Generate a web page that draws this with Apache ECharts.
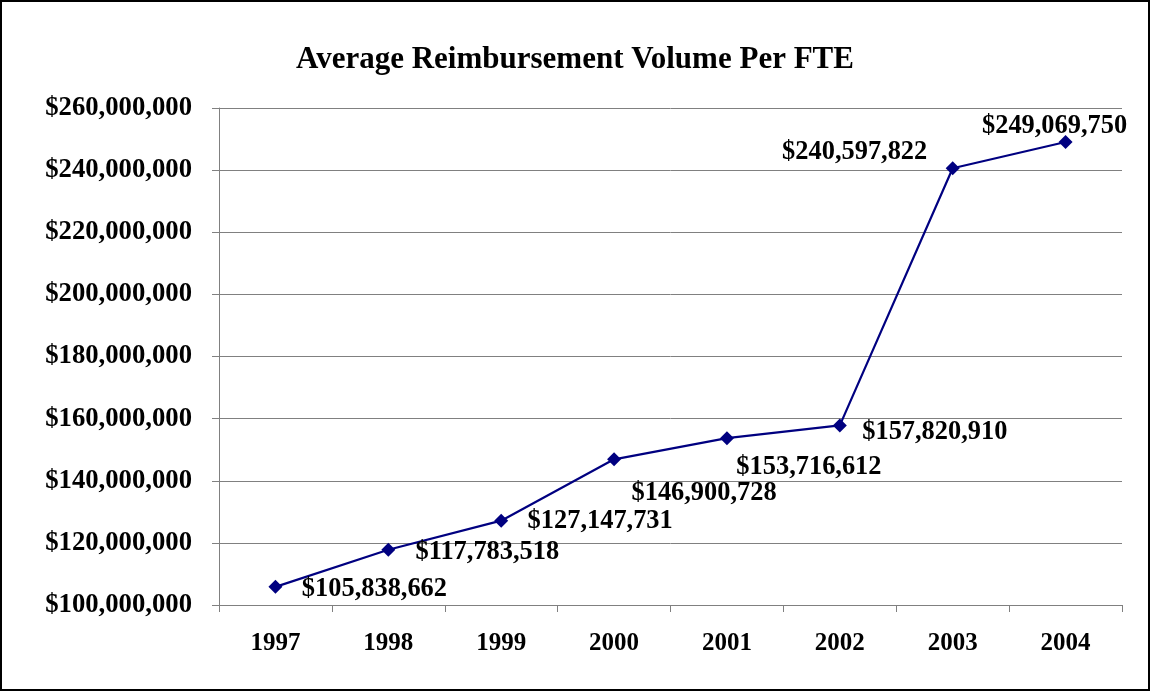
<!DOCTYPE html>
<html>
<head>
<meta charset="utf-8">
<script src="https://cdn.jsdelivr.net/npm/echarts@6/dist/echarts.min.js"></script>
<style>
  html, body { margin: 0; padding: 0; background: #fff; }
  #chart { width: 1150px; height: 691px; box-sizing: border-box; border: 2px solid #000; }
</style>
</head>
<body>
<div id="chart"></div>
<script>
// 年份
const years = ['1997', '1998', '1999', '2000', '2001', '2002', '2003', '2004'];
// 每个FTE平均报销额
const volumes = [105838662, 117783518, 127147731, 146900728, 153716612, 157820910, 240597822, 249069750];
// 数据标签相对点的偏移
const labelOffsets = [[99, 2], [99, 2], [99, 1], [90, 34], [82, 29], [95, 7], [-98, -16], [-11, -16]];

const fmt = (v) => '$' + v.toLocaleString('en-US');
const font = '"Liberation Serif", "Times New Roman", serif';

const mychart = echarts.init(document.getElementById('chart'));

const option = {
  animation: false,
  title: {
    text: 'Average Reimbursement Volume Per FTE',
    left: 'center',
    top: 37,
    textStyle: { fontFamily: font, fontSize: 31, fontWeight: 'bold', color: '#000' },
  },
  grid: { left: 217, right: 26, top: 106, bottom: 84 },
  xAxis: {
    type: 'category',
    data: years,
    boundaryGap: true,
    axisLine: { lineStyle: { color: '#808080', width: 1 } },
    axisTick: { show: true, inside: false, length: 7, lineStyle: { color: '#808080' } },
    axisLabel: { color: '#000', fontFamily: font, fontSize: 25, fontWeight: 'bold', margin: 26 },
  },
  yAxis: {
    type: 'value',
    min: 100000000,
    max: 260000000,
    interval: 20000000,
    axisLine: { show: true, lineStyle: { color: '#808080', width: 1 } },
    axisTick: { show: true, inside: false, length: 7, lineStyle: { color: '#808080' } },
    splitLine: { lineStyle: { color: '#808080', width: 1 } },
    axisLabel: { color: '#000', fontFamily: font, fontSize: 26.7, fontWeight: 'bold', margin: 27, formatter: fmt },
  },
  series: [
    {
      type: 'line',
      data: volumes.map((v, i) => ({
        value: v,
        label: { offset: labelOffsets[i] },
      })),
      symbol: 'diamond',
      symbolSize: 14,
      lineStyle: { color: '#000080', width: 2.2 },
      itemStyle: { color: '#000080' },
      label: {
        show: true,
        position: 'inside',
        color: '#000',
        fontFamily: font,
        fontSize: 26.4,
        fontWeight: 'bold',
        formatter: (p) => fmt(p.value),
      },
    },
  ],
};

mychart.setOption(option);
</script>
</body>
</html>
